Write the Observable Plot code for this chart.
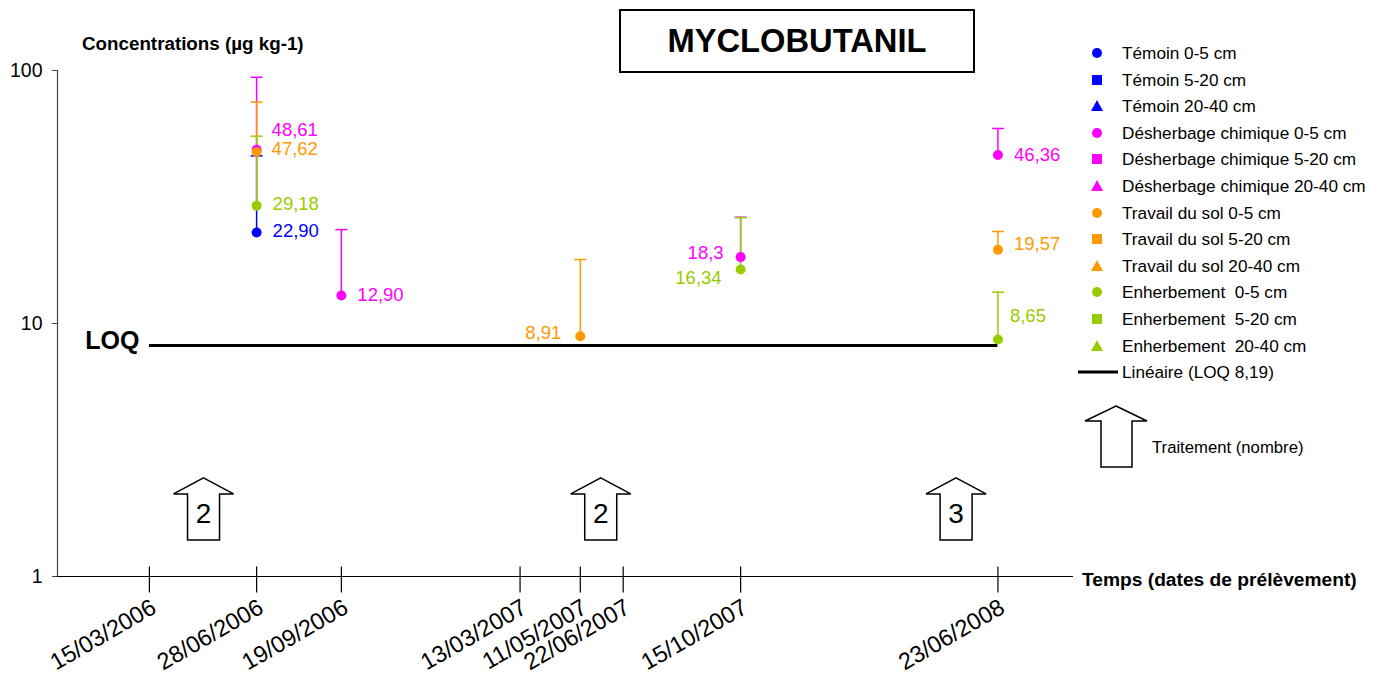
<!DOCTYPE html>
<html>
<head>
<meta charset="utf-8">
<script src="https://cdn.jsdelivr.net/npm/d3@7"></script>
<script src="https://cdn.jsdelivr.net/npm/@observablehq/plot@0.6"></script>
<style>
  body { margin: 0; background: #fff; font-family: "Liberation Sans", Arial, sans-serif; }
  #wrap { position: relative; width: 1381px; height: 684px; overflow: hidden; }
  .abs { position: absolute; white-space: pre; color: #000; }
  .leg { position: absolute; left: 1085px; height: 20px; line-height: 20px; font-size: 17.2px; white-space: pre; }
  .leg svg { position: absolute; left: 0; top: 0; }
  .leg span { position: absolute; left: 37px; top: 0; }
</style>
</head>
<body>
<div id="wrap">
  <div id="chart"></div>
  <div class="abs" style="left:82px;top:33px;font-size:18.8px;font-weight:bold;">Concentrations (µg kg-1)</div>
  <div class="abs" style="left:619px;top:9px;width:352px;height:60px;border:2px solid #000;text-align:center;line-height:60px;font-size:32.7px;font-weight:bold;">MYCLOBUTANIL</div>
  <div class="abs" style="left:1082px;top:569px;font-size:19.2px;font-weight:bold;">Temps (dates de prélèvement)</div>
  <div id="legend"></div>
</div>
<script>
// ---------- data ----------
const treatments = ["Témoin", "Désherbage chimique", "Travail du sol", "Enherbement"];
const treatmentColors = ["#0000FF", "#FF00FF", "#FF9900", "#99CC00"];
const depths = ["0-5 cm", "5-20 cm", "20-40 cm"];
const legendLabels = [
  "Témoin 0-5 cm", "Témoin 5-20 cm", "Témoin 20-40 cm",
  "Désherbage chimique 0-5 cm", "Désherbage chimique 5-20 cm", "Désherbage chimique 20-40 cm",
  "Travail du sol 0-5 cm", "Travail du sol 5-20 cm", "Travail du sol 20-40 cm",
  "Enherbement  0-5 cm", "Enherbement  5-20 cm", "Enherbement  20-40 cm"
];
const tickDates = ["15/03/2006", "28/06/2006", "19/09/2006", "13/03/2007", "11/05/2007", "22/06/2007", "15/10/2007", "23/06/2008"];
const yTicks = [1, 10, 100];

const pointDates = ["28/06/2006", "28/06/2006", "28/06/2006", "28/06/2006", "19/09/2006", "11/05/2007", "15/10/2007", "15/10/2007", "23/06/2008", "23/06/2008", "23/06/2008"];
const pointTreatments = ["Témoin", "Désherbage chimique", "Travail du sol", "Enherbement", "Désherbage chimique", "Travail du sol", "Désherbage chimique", "Enherbement", "Désherbage chimique", "Travail du sol", "Enherbement"];
const pointValues = [22.90, 48.61, 47.62, 29.18, 12.90, 8.91, 18.3, 16.34, 46.36, 19.57, 8.65];
const pointUpper = [46, 94, 75, 55, 23.5, 17.9, 26.3, 26.2, 59, 23.1, 13.3];
const pointLabels = ["22,90", "48,61", "47,62", "29,18", "12,90", "8,91", "18,3", "16,34", "46,36", "19,57", "8,65"];

const loqValue = 8.19;
const loqStart = "15/03/2006";
const loqEnd = "23/06/2008";
const loqLegend = "Linéaire (LOQ 8,19)";

const applicationDates = ["07/05/2006", "31/05/2007", "13/05/2008"];
const applicationCounts = [2, 2, 3];
const applicationLegend = "Traitement (nombre)";

// ---------- layout (not data) ----------
const labelDx = [16, 15, 15, 16, 16, -19, -17, -19, 16, 16, 12];
const labelDy = [-1, -20, -3, -2, 0, -3, -4, 9, 0, -6, -23];
const labelAnchor = ["start", "start", "start", "start", "start", "end", "end", "end", "start", "start", "start"];
const arrowLevel = 1.85;

const parse = d3.utcParse("%d/%m/%Y");
const colorOf = t => treatmentColors[treatments.indexOf(t)];
const points = pointValues.map((v, i) => ({
  date: parse(pointDates[i]), value: v, upper: pointUpper[i], label: pointLabels[i],
  color: colorOf(pointTreatments[i]), dx: labelDx[i], dy: labelDy[i], anchor: labelAnchor[i]
}));
const apps = applicationDates.map((d, i) => ({date: parse(d), n: String(applicationCounts[i])}));
const ticks = tickDates.map(d => ({date: parse(d), label: d}));

// custom symbols
const capSymbol = {draw(ctx) { ctx.moveTo(-6, 0); ctx.lineTo(6, 0); }};
const vTickSymbol = {draw(ctx) { ctx.moveTo(0, -10); ctx.lineTo(0, 16); }};
const arrowSymbol = {draw(ctx) {
  ctx.moveTo(0, -31); ctx.lineTo(30, -15); ctx.lineTo(16, -15); ctx.lineTo(16, 31);
  ctx.lineTo(-16, 31); ctx.lineTo(-16, -15); ctx.lineTo(-30, -15); ctx.closePath();
}};

const chart = Plot.plot({
  width: 1381, height: 684,
  marginLeft: 57, marginRight: 308, marginTop: 70, marginBottom: 108,
  style: {fontFamily: "'Liberation Sans', Arial, sans-serif", background: "transparent"},
  x: {type: "utc", domain: [parse("15/12/2005"), parse("05/09/2008")], axis: null},
  y: {type: "log", domain: [1, 100], axis: null},
  marks: [
    Plot.ruleX([parse("15/12/2005")], {stroke: "#444", strokeWidth: 1.2}),
    Plot.axisY(yTicks, {anchor: "left", tickSize: 5, tickPadding: 10, tickFormat: d => String(d), fontSize: 19.5, label: null, stroke: "#444", color: "#000"}),
    // treatment arrows
    Plot.dot(apps, {x: "date", y: () => arrowLevel, symbol: () => arrowSymbol, r: 1, fill: "white", stroke: "black", strokeWidth: 1.5}),
    Plot.text(apps, {x: "date", y: () => arrowLevel, text: "n", fontSize: 28, dy: 5, fill: "black"}),
    // x axis
    Plot.ruleY([1], {stroke: "black", strokeWidth: 1.2}),
    Plot.dot(ticks, {x: "date", y: () => 1, symbol: () => vTickSymbol, r: 1, stroke: "black", strokeWidth: 1.2}),
    Plot.text(ticks, {x: "date", y: () => 1, text: "label", rotate: -30, textAnchor: "end", lineAnchor: "top", dy: 21, fontSize: 23.5, fill: "black"}),
    // LOQ
    Plot.ruleY([loqValue], {x1: () => parse(loqStart), x2: () => parse(loqEnd), stroke: "black", strokeWidth: 3}),
    Plot.text(["LOQ"], {x: () => parse(loqStart), y: () => loqValue, text: d => d, textAnchor: "end", dx: -10, dy: -4, fontSize: 25, fontWeight: "bold", fill: "black"}),
    // error bars
    Plot.ruleX(points, {x: "date", y1: "value", y2: "upper", stroke: "color", strokeWidth: 1.5}),
    Plot.dot(points, {x: "date", y: "upper", symbol: () => capSymbol, r: 1, stroke: "color", strokeWidth: 1.5}),
    // points
    Plot.dot(points, {x: "date", y: "value", r: 5, fill: "color", stroke: "none"}),
    // value labels
    ...points.map(p => Plot.text([p], {x: "date", y: "value", text: "label", fill: "color", fontSize: 18.5, dx: p.dx, dy: p.dy, textAnchor: p.anchor}))
  ]
});
document.getElementById("chart").appendChild(chart);

// ---------- legend ----------
const legend = document.getElementById("legend");
const markerSvg = (shape, color) => {
  if (shape === 0) return `<svg width="24" height="20"><circle cx="12" cy="10" r="5" fill="${color}"/></svg>`;
  if (shape === 1) return `<svg width="24" height="20"><rect x="7" y="5" width="10" height="10" fill="${color}"/></svg>`;
  return `<svg width="24" height="20"><path d="M12,4 L18,15 L6,15 Z" fill="${color}"/></svg>`;
};
legendLabels.forEach((lab, i) => {
  const t = Math.floor(i / depths.length), s = i % depths.length;
  const row = document.createElement("div");
  row.className = "leg";
  row.style.top = (43 + i * 26.6) + "px";
  row.innerHTML = markerSvg(s, treatmentColors[t]) + `<span>${lab}</span>`;
  legend.appendChild(row);
});
const loqRow = document.createElement("div");
loqRow.className = "leg";
loqRow.style.left = "1077px";
loqRow.style.top = (43 + 12 * 26.6) + "px";
loqRow.innerHTML = `<svg width="44" height="20"><line x1="1" y1="10" x2="41" y2="10" stroke="black" stroke-width="3"/></svg><span style="left:45px">${loqLegend}</span>`;
legend.appendChild(loqRow);
const arrowRow = document.createElement("div");
arrowRow.className = "abs";
arrowRow.style.left = "1084px";
arrowRow.style.top = "405px";
arrowRow.innerHTML = `<svg width="66" height="66"><path d="M32,1 L63,16 L48,16 L48,62 L17,62 L17,16 L1,16 Z" fill="white" stroke="black" stroke-width="1.5"/></svg>` +
  `<span style="position:absolute;left:68px;top:33px;font-size:16.7px;">${applicationLegend}</span>`;
legend.appendChild(arrowRow);
</script>
</body>
</html>
